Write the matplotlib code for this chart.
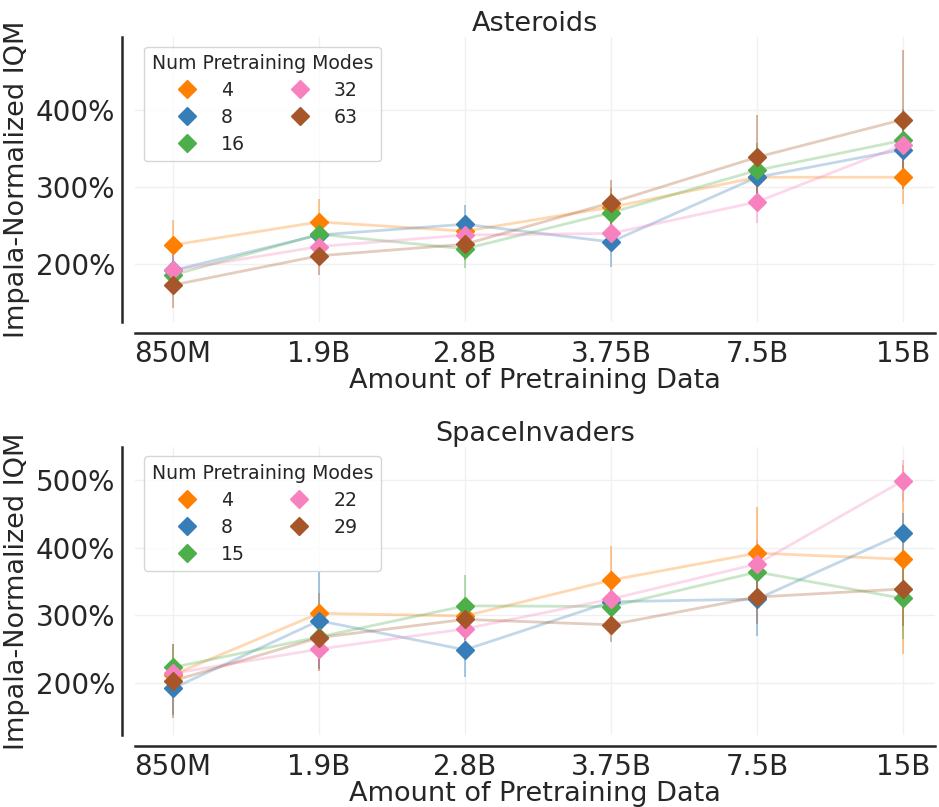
import matplotlib
matplotlib.use("Agg")
import matplotlib.pyplot as plt
import numpy as np

data_sizes = ['850M', '1.9B', '2.8B', '3.75B', '7.5B', '15B']
colors = ['#ff7f00', '#377eb8', '#4daf4a', '#f781bf', '#a65628']

# Asteroids
ast_modes = ['4', '8', '16', '32', '63']
ast_vals = [
    [225, 255, 243, 274, 313, 313],
    [192, 238, 252, 229, 313, 349],
    [186, 239, 220, 267, 322, 361],
    [192, 223, 238, 240, 281, 355],
    [173, 211, 226, 280, 339, 388],
]
ast_err = [
    [33, 30, 15, 25, 20, 35],
    [20, 20, 25, 32, 25, 30],
    [20, 20, 25, 25, 35, 40],
    [20, 20, 15, 20, 28, 35],
    [30, 25, 20, 30, 55, 90],
]

# SpaceInvaders
spi_modes = ['4', '8', '15', '22', '29']
spi_vals = [
    [212, 303, 299, 352, 392, 383],
    [192, 292, 249, 320, 324, 421],
    [223, 268, 314, 313, 364, 325],
    [214, 250, 280, 324, 376, 499],
    [203, 267, 294, 286, 327, 339],
]
spi_err = [
    [20, 30, 25, 50, 68, 140],
    [40, 72, 40, 30, 55, 30],
    [35, 30, 45, 25, 30, 60],
    [20, 30, 30, 20, 35, 30],
    [55, 50, 30, 25, 40, 55],
]

text_col = '#262626'
plt.rcParams['font.family'] = 'DejaVu Sans'
plt.rcParams['text.color'] = text_col
plt.rcParams['axes.labelcolor'] = text_col
plt.rcParams['xtick.color'] = text_col
plt.rcParams['ytick.color'] = text_col

fig = plt.figure(figsize=(9.39, 8.07), dpi=100)
ax1 = fig.add_axes([0.1438, 0.601, 0.852, 0.353])
ax2 = fig.add_axes([0.1438, 0.0892, 0.852, 0.357])


def draw(ax, title, modes, vals, errs, ylim):
    x = np.arange(len(data_sizes))
    for i, m in enumerate(modes):
        v = np.array(vals[i])
        e = np.array(errs[i])
        ax.plot(x, v, color=colors[i], alpha=0.3, lw=2, zorder=2)
        ax.vlines(x, v - e, v + e, color=colors[i], alpha=0.5, lw=1.2, zorder=2)
        ax.plot(x, v, 'D', color=colors[i], ms=9.5, label=m, zorder=3, ls='none')
    ax.set_xticks(x)
    ax.set_xticklabels(data_sizes)
    ax.set_xlim(-0.26, 5.22)
    ax.set_ylim(*ylim)
    ax.yaxis.set_major_formatter(plt.FuncFormatter(lambda v, p: '%d%%' % v))
    ax.tick_params(axis='y', labelsize=20, length=0, pad=5)
    ax.tick_params(axis='x', labelsize=20, length=0, pad=5)
    ax.grid(True, color='#f0f0f0', lw=1, zorder=0)
    ax.set_axisbelow(True)
    for s in ['top', 'right']:
        ax.spines[s].set_visible(False)
    ax.spines['left'].set_position(('outward', 9.4))
    ax.spines['bottom'].set_position(('outward', 8))
    for s in ['left', 'bottom']:
        ax.spines[s].set_color(text_col)
        ax.spines[s].set_linewidth(1.8)
    ax.set_title(title, fontsize=19.5, pad=3)
    ax.set_xlabel('Amount of Pretraining Data', fontsize=19.5, labelpad=0)
    ax.set_ylabel('Impala-Normalized IQM', fontsize=19.5, labelpad=4)
    leg = ax.legend(title='Num Pretraining Modes', ncol=2, loc='upper left',
                    fontsize=13.6, title_fontsize=13.6, frameon=True,
                    bbox_to_anchor=(0.0, 1.0), borderaxespad=0.5,
                    labelspacing=0.42, columnspacing=1.9)
    leg.get_frame().set_edgecolor('#cccccc')


draw(ax1, 'Asteroids', ast_modes, ast_vals, ast_err, (125, 495))
ax1.set_yticks([200, 300, 400])
draw(ax2, 'SpaceInvaders', spi_modes, spi_vals, spi_err, (123, 549))
ax2.set_yticks([200, 300, 400, 500])

fig.savefig('out.png', dpi=100)
